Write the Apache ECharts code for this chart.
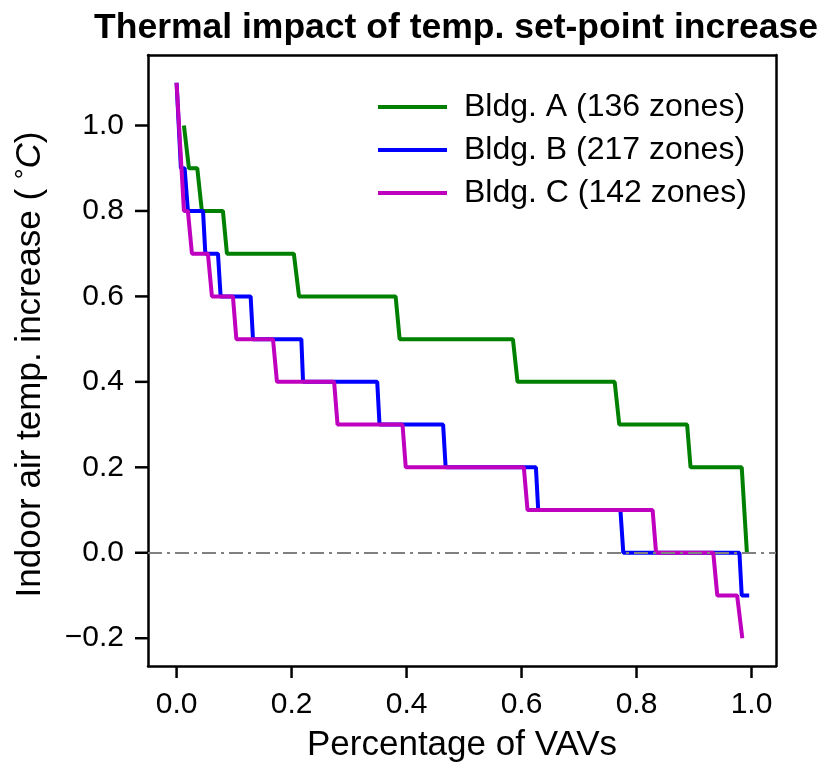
<!DOCTYPE html>
<html>
<head>
<meta charset="utf-8">
<script src="https://cdn.jsdelivr.net/npm/echarts@6/dist/echarts.min.js"></script>
<style>html,body{margin:0;padding:0;background:#fff;}#c{width:824px;height:769px;}</style>
</head>
<body>
<div id="c"></div>
<script>
// Bldg. A (136 zones)
var aX = [0.0128, 0.0215, 0.036, 0.044, 0.0806, 0.0876, 0.204, 0.213, 0.381, 0.388, 0.585, 0.593, 0.762, 0.770, 0.888, 0.894, 0.983, 0.992];
var aY = [1.0, 0.9, 0.9, 0.8, 0.8, 0.7, 0.7, 0.6, 0.6, 0.5, 0.5, 0.4, 0.4, 0.3, 0.3, 0.2, 0.2, 0.0];
// Bldg. B (217 zones)
var bX = [0, 0.0075, 0.014, 0.0197, 0.046, 0.050, 0.072, 0.0766, 0.1288, 0.1329, 0.217, 0.220, 0.349, 0.353, 0.4636, 0.468, 0.625, 0.629, 0.772, 0.777, 0.979, 0.983, 0.996];
var bY = [1.1, 0.9, 0.9, 0.8, 0.8, 0.7, 0.7, 0.6, 0.6, 0.5, 0.5, 0.4, 0.4, 0.3, 0.3, 0.2, 0.2, 0.1, 0.1, 0.0, 0.0, -0.1, -0.1];
// Bldg. C (142 zones)
var cX = [0, 0.0128, 0.0197, 0.0267, 0.0545, 0.0615, 0.098, 0.104, 0.1677, 0.1746, 0.274, 0.280, 0.393, 0.3986, 0.604, 0.6104, 0.828, 0.834, 0.9335, 0.9405, 0.975, 0.984];
var cY = [1.1, 0.8, 0.8, 0.7, 0.7, 0.6, 0.6, 0.5, 0.5, 0.4, 0.4, 0.3, 0.3, 0.2, 0.2, 0.1, 0.1, 0.0, 0.0, -0.1, -0.1, -0.2];

var seriesNames = ['Bldg. A (136 zones)', 'Bldg. B (217 zones)', 'Bldg. C (142 zones)'];
var xTicks = [0.0, 0.2, 0.4, 0.6, 0.8, 1.0];
var yTicks = [-0.2, 0.0, 0.2, 0.4, 0.6, 0.8, 1.0];
var refY = 0;

function pairs(xs, ys) { return xs.map(function (x, i) { return [x, ys[i]]; }); }
function fmt(v) { var s = Math.abs(v).toFixed(1); return (v < -1e-9 ? '\u2212' : '') + s; }

var FONT = '"Liberation Sans", Arial, sans-serif';
var chart = echarts.init(document.getElementById('c'));
var colors = ['#008000', '#0000ff', '#bf00bf'];
var datas = [pairs(aX, aY), pairs(bX, bY), pairs(cX, cY)];
var XMIN = -0.0497, XMAX = 1.0426, YMIN = -0.265, YMAX = 1.165;
var TICK_LEN_X = 12, TICK_LEN_Y = 13;

var series = seriesNames.map(function (n, i) {
  return {
    name: n, type: 'line', data: datas[i], showSymbol: false, symbol: 'none',
    lineStyle: { color: colors[i], width: 4 }, itemStyle: { color: colors[i] },
    z: 2 + i, animation: false
  };
});
series.push({
  name: 'zero', type: 'line', data: [], z: 10, animation: false,
  markLine: {
    silent: true, symbol: ['none', 'none'], label: { show: false },
    lineStyle: { color: '#808080', width: 2.2, type: [14, 5, 3, 5] },
    data: [{ yAxis: refY }], animation: false
  }
});
// outward tick marks, placed through the axes' own scales
series.push({
  name: 'xticks', type: 'custom', coordinateSystem: 'cartesian2d', clip: false, silent: true, z: 20,
  data: xTicks.map(function (v) { return [v, YMIN]; }),
  renderItem: function (params, api) {
    var p = api.coord([api.value(0), YMIN]);
    return { type: 'line', shape: { x1: p[0], y1: p[1], x2: p[0], y2: p[1] + TICK_LEN_X }, style: { stroke: '#000', lineWidth: 2.5 } };
  }
});
series.push({
  name: 'yticks', type: 'custom', coordinateSystem: 'cartesian2d', clip: false, silent: true, z: 20,
  data: yTicks.map(function (v) { return [XMIN, v]; }),
  renderItem: function (params, api) {
    var p = api.coord([XMIN, api.value(1)]);
    return { type: 'line', shape: { x1: p[0] - TICK_LEN_Y, y1: p[1], x2: p[0], y2: p[1] }, style: { stroke: '#000', lineWidth: 2.5 } };
  }
});

function frameAxis(pos) {
  return {
    type: 'value', position: pos,
    min: (pos === 'top') ? XMIN : YMIN, max: (pos === 'top') ? XMAX : YMAX,
    axisLine: { show: true, onZero: false, lineStyle: { color: '#000', width: 2.5 } },
    axisTick: { show: false }, axisLabel: { show: false }, splitLine: { show: false }
  };
}

chart.setOption({
  animation: false,
  title: {
    text: 'Thermal impact of temp. set-point increase',
    left: 451, top: 5, textAlign: 'center',
    textStyle: { fontFamily: FONT, fontWeight: 'bold', fontSize: 35.5, color: '#000' }
  },
  legend: {
    data: seriesNames, orient: 'vertical', left: 373, top: 86,
    itemWidth: 69, itemHeight: 4, itemGap: 11,
    textStyle: { fontFamily: FONT, fontSize: 32, color: '#000', padding: [0, 0, 0, 12] },
    icon: 'rect'
  },
  grid: { left: 148, right: 48, top: 55, bottom: 103, show: false },
  xAxis: [{
    type: 'value', position: 'bottom', min: XMIN, max: XMAX,
    name: 'Percentage of VAVs', nameLocation: 'middle', nameGap: 62,
    nameTextStyle: { fontFamily: FONT, fontSize: 35, color: '#000' },
    axisLine: { show: true, onZero: false, lineStyle: { color: '#000', width: 2.5 } },
    axisTick: { show: false },
    axisLabel: { customValues: xTicks, formatter: fmt, margin: 24, fontFamily: FONT, fontSize: 30, color: '#000' },
    splitLine: { show: false }
  }, frameAxis('top')],
  yAxis: [{
    type: 'value', position: 'left', min: YMIN, max: YMAX,
    name: '{n|Indoor air temp. increase ( }{s|°}{i|C}{n|)}', nameLocation: 'middle', nameGap: 100,
    nameTextStyle: {
      fontFamily: FONT, fontSize: 35, color: '#000', padding: [0, 8, 0, 0],
      rich: {
        n: { fontFamily: FONT, fontSize: 35, color: '#000' },
        s: { fontFamily: FONT, fontSize: 27, color: '#000', verticalAlign: 'top' },
        i: { fontFamily: FONT, fontSize: 35, fontStyle: 'italic', color: '#000' }
      }
    },
    axisLine: { show: true, onZero: false, lineStyle: { color: '#000', width: 2.5 } },
    axisTick: { show: false },
    axisLabel: { customValues: yTicks, formatter: fmt, margin: 24, fontFamily: FONT, fontSize: 30, color: '#000' },
    splitLine: { show: false }
  }, frameAxis('right')],
  series: series
});
</script>
</body>
</html>
